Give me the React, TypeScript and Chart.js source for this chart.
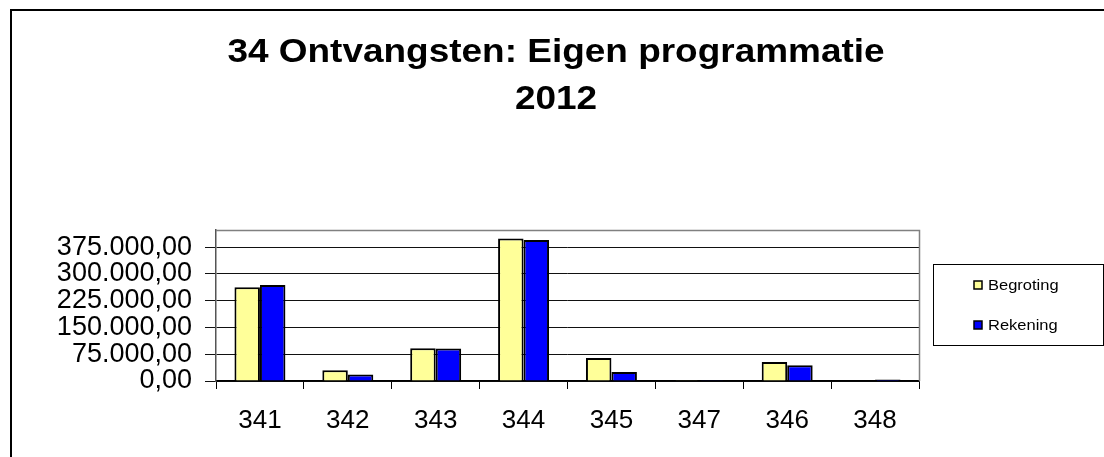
import React, { useEffect, useRef } from 'react';
import { Chart, registerables } from 'chart.js';

Chart.register(...registerables);

const categories = ['341', '342', '343', '344', '345', '347', '346', '348'];
const begroting = [262700, 30000, 92000, 399300, 64700, 500, 53400, 1500];
const rekening = [269100, 18000, 91000, 394800, 25300, 500, 44100, 4000];
const yTicks = [0, 75000, 150000, 225000, 300000, 375000];
const titleLines = ['34 Ontvangsten: Eigen programmatie', '2012'];
const seriesNames = ['Begroting', 'Rekening'];
const seriesColors = ['#FFFF99', '#0000FF'];

const FONT = '"Liberation Sans", Arial, sans-serif';

function fmt(v: number): string {
  const s = Math.round(v).toString().replace(/\B(?=(\d{3})+(?!\d))/g, '.');
  return s + ',00';
}

const decorPlugin = {
  id: 'decor',
  beforeDraw(chart: any) {
    const ctx = chart.ctx;
    ctx.save();
    ctx.fillStyle = '#fff';
    ctx.fillRect(0, 0, chart.width, chart.height);
    // outer frame (left and top visible)
    ctx.fillStyle = '#000';
    ctx.fillRect(10, 9, chart.width - 10, 2);
    ctx.fillRect(10, 9, 2, chart.height - 9);
    // title
    ctx.fillStyle = '#000';
    ctx.font = 'bold 34px ' + FONT;
    ctx.textAlign = 'center';
    ctx.textBaseline = 'alphabetic';
    const cx = 556;
    const baselines = [62, 108.5];
    titleLines.forEach((t, i) => {
      ctx.save();
      ctx.translate(cx, baselines[i]);
      ctx.scale(1.087, 1);
      ctx.fillText(t, 0, 0);
      ctx.restore();
    });
    ctx.restore();
  },
  afterDraw(chart: any) {
    const ctx = chart.ctx;
    const a = chart.chartArea;
    ctx.save();
    // plot area top/right border
    ctx.strokeStyle = '#808080';
    ctx.lineWidth = 1.5;
    ctx.beginPath();
    ctx.moveTo(a.left, a.top + 0.5);
    ctx.lineTo(a.right + 0.5, a.top + 0.5);
    ctx.lineTo(a.right + 0.5, a.bottom);
    ctx.stroke();
    // legend box
    const lx = 933.5, ly = 264.5, lw = 170, lh = 81;
    ctx.strokeStyle = '#000';
    ctx.lineWidth = 1;
    ctx.strokeRect(lx, ly, lw, lh);
    const rows = [285, 325];
    ctx.font = '15px ' + FONT;
    ctx.textAlign = 'left';
    ctx.textBaseline = 'middle';
    seriesNames.forEach((n, i) => {
      const cy = rows[i];
      ctx.fillStyle = seriesColors[i];
      ctx.fillRect(974, cy - 4, 8, 8);
      ctx.strokeStyle = '#000';
      ctx.lineWidth = 1.5;
      ctx.strokeRect(974, cy - 4, 8, 8);
      ctx.fillStyle = '#000';
      ctx.save();
      ctx.translate(988, cy + 1);
      ctx.scale(1.1, 1);
      ctx.fillText(n, 0, 0);
      ctx.restore();
    });
    ctx.restore();
  },
};

export default function App() {
  const ref = useRef<HTMLCanvasElement | null>(null);
  useEffect(() => {
    if (!ref.current) return;
    const chart = new Chart(ref.current, {
      type: 'bar',
      data: {
        labels: categories,
        datasets: [
          {
            label: seriesNames[0],
            data: begroting,
            backgroundColor: seriesColors[0],
            borderColor: '#000',
            borderWidth: 2,
            barPercentage: 1,
            categoryPercentage: 0.58,
          },
          {
            label: seriesNames[1],
            data: rekening,
            backgroundColor: seriesColors[1],
            borderColor: '#000',
            borderWidth: 2,
            barPercentage: 1,
            categoryPercentage: 0.58,
          },
        ],
      },
      options: {
        responsive: false,
        animation: false,
        layout: { padding: { left: 0, top: 230, right: 185, bottom: 0 } },
        plugins: {
          legend: { display: false },
          title: { display: false },
          tooltip: { enabled: false },
        },
        scales: {
          x: {
            offset: true,
            grid: {
              offset: true,
              drawOnChartArea: false,
              drawTicks: true,
              tickLength: 8,
              color: '#000',
            },
            border: { color: '#000', width: 1.5 },
            ticks: {
              color: '#000',
              padding: 16,
              font: { family: FONT, size: 26 },
              maxRotation: 0,
              autoSkip: false,
            },
            afterFit(scale: any) {
              scale.height = 76;
            },
          },
          y: {
            min: 0,
            max: 423000,
            afterBuildTicks(scale: any) {
              scale.ticks = yTicks.map((v) => ({ value: v }));
            },
            grid: {
              color: '#111',
              lineWidth: 1,
              tickLength: 11,
            },
            border: { color: '#555', width: 1.5 },
            ticks: {
              color: '#000',
              padding: 13,
              autoSkip: false,
              font: { family: FONT, size: 27 },
              callback: (v: any) => fmt(Number(v)),
            },
            afterFit(scale: any) {
              scale.width = 216;
            },
          },
        },
      },
      plugins: [decorPlugin],
    });
    return () => chart.destroy();
  }, []);
  return (
    <div style={{ position: 'absolute', left: 0, top: 0, width: 1104, height: 457 }}>
      <canvas ref={ref} width={1104} height={457} style={{ display: 'block' }} />
    </div>
  );
}
